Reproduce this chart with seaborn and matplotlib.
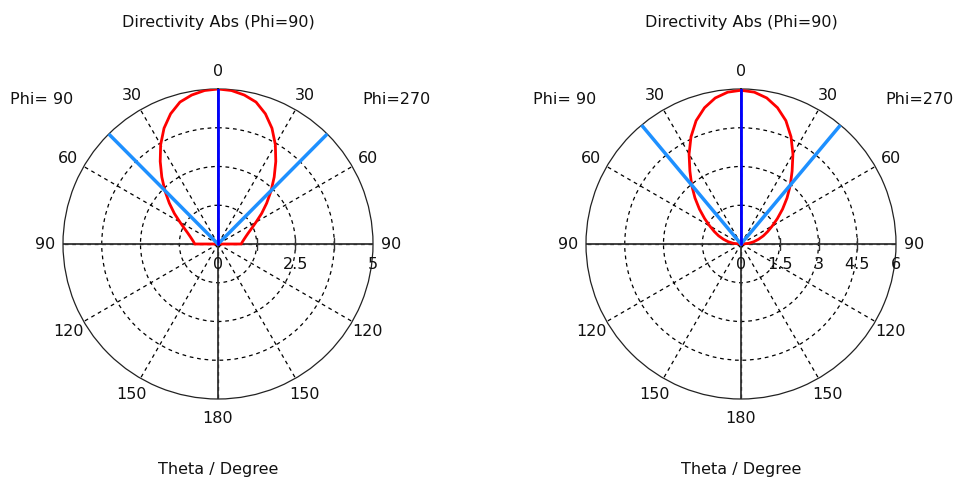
import numpy as np
import seaborn as sns
import matplotlib
matplotlib.use("Agg")
import matplotlib.pyplot as plt

# directivity pattern, one side of theta (symmetric cut), 5 deg steps
theta_half = [0, 5, 10, 15, 20, 25, 30, 35, 40, 45, 50, 55, 60, 65, 70, 75, 80, 85, 90]
dir_left = [5.0, 4.97, 4.88, 4.74, 4.47, 4.12, 3.70, 3.25, 2.82, 2.42, 2.05, 1.72, 1.42,
            1.20, 1.04, 0.93, 0.85, 0.79, 0.75]
dir_right = [5.95, 5.90, 5.74, 5.46, 5.08, 4.58, 4.02, 3.45, 2.97, 2.52, 2.10, 1.72, 1.40,
             1.14, 0.92, 0.70, 0.50, 0.30, 0.05]

# main lobe direction and 3 dB beamwidth edges (deg)
main_dir = [0, 0]
half_bw = [44.8, 39.9]
r_max = [5, 6]
r_grid = [[1.25, 2.5, 3.75], [1.5, 3.0, 4.5]]
r_labels = [[0, 2.5, 5], [0, 1.5, 3, 4.5, 6]]
theta_ticks = [0, 30, 60, 90, 120, 150, 180, 210, 240, 270, 300, 330]
theta_ticklabels = ["0", "30", "60", "90", "120", "150", "180", "150", "120", "90", "60", "30"]

sns.set_style("white")
plt.rcParams['font.family'] = ['DejaVu Sans']
plt.rcParams['text.color'] = '#111111'
plt.rcParams['xtick.color'] = '#111111'
fs = 11.5

fig = plt.figure(figsize=(9.54, 4.81), dpi=100)
box = [[63 / 954, 81 / 481, 310 / 954, 310 / 481], [586 / 954, 81 / 481, 310 / 954, 310 / 481]]

for i, vals in enumerate([dir_left, dir_right]):
    ax = fig.add_axes(box[i], projection='polar')
    ax.set_theta_zero_location('N')
    ax.set_theta_direction(-1)

    # full cut: back half is zero
    th = [-180] + [-t for t in theta_half[::-1]] + theta_half[1:] + [180]
    rr = [0] + vals[::-1] + vals[1:] + [0]

    ax.set_ylim(0, r_max[i])
    ax.set_yticks(r_grid[i])
    ax.set_yticklabels([])
    ax.set_xticks(np.deg2rad(theta_ticks))
    ax.set_xticklabels(theta_ticklabels, fontsize=fs)
    ax.tick_params(axis='x', pad=6, length=0)
    ax.grid(True, color='black', linestyle=(0, (3, 3)), linewidth=0.9)
    ax.spines['polar'].set_color('#222222')
    ax.spines['polar'].set_linewidth(0.9)

    # solid cross through the centre
    for a in [0, 90, 180, 270]:
        ax.plot([np.deg2rad(a)] * 2, [0, r_max[i]], color='#333333', lw=1.3, zorder=2)
    ax.plot(np.full(len(r_grid[i]), np.pi / 2), r_grid[i], ls='none', marker='|',
            ms=8, color='#333333', zorder=2)

    sns.lineplot(x=np.deg2rad(th), y=rr, ax=ax, sort=False, estimator=None,
                 color='#ff0000', lw=2, zorder=3)

    for b in [-half_bw[i], half_bw[i]]:
        ax.plot([np.deg2rad(b)] * 2, [0, r_max[i]], color='#1e90ff', lw=2.5, zorder=4)
    ax.plot([np.deg2rad(main_dir[i])] * 2, [0, r_max[i]], color='#0000ff', lw=2, zorder=5)

    for v in r_labels[i]:
        ax.annotate(f"{v:g}", xy=(np.pi / 2, v), xytext=(0, -14), textcoords='offset points',
                    ha='center', va='center', fontsize=fs, annotation_clip=False)

    ax.set_xlabel('')
    ax.set_ylabel('')
    ax.text(0.5, 1.219, 'Directivity Abs (Phi=90)', transform=ax.transAxes,
            ha='center', va='center', fontsize=fs)
    ax.text(0.5, -0.223, 'Theta / Degree', transform=ax.transAxes,
            ha='center', va='center', fontsize=fs)
    ax.text(-0.171, 0.968, 'Phi= 90', transform=ax.transAxes,
            ha='left', va='center', fontsize=fs)
    ax.text(0.965, 0.968, 'Phi=270', transform=ax.transAxes,
            ha='left', va='center', fontsize=fs)

fig.savefig('out.png', dpi=100)
